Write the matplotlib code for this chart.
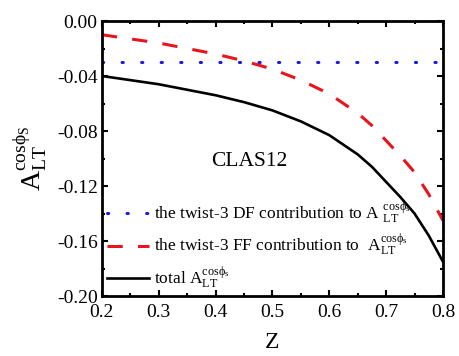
import matplotlib
matplotlib.use("Agg")
import matplotlib.pyplot as plt
from matplotlib.ticker import MultipleLocator, FuncFormatter

plt.rcParams['font.family'] = ['Liberation Serif', 'DejaVu Serif']
plt.rcParams['mathtext.fontset'] = 'custom'
plt.rcParams['mathtext.rm'] = 'Liberation Serif'
plt.rcParams['mathtext.it'] = 'Liberation Serif:italic'
plt.rcParams['axes.unicode_minus'] = False

# z values and asymmetry curves
z = [0.20, 0.25, 0.30, 0.35, 0.40, 0.45, 0.50, 0.525, 0.55, 0.575, 0.60, 0.625,
     0.65, 0.675, 0.70, 0.725, 0.75, 0.775, 0.80]
df_contrib = [-0.030] * len(z)
ff_contrib = [-0.010, -0.013, -0.016, -0.020, -0.024, -0.029, -0.035, -0.039,
              -0.043, -0.048, -0.053, -0.060, -0.067, -0.076, -0.087, -0.098,
              -0.110, -0.126, -0.145]
total = [-0.040, -0.043, -0.046, -0.050, -0.054, -0.059, -0.065, -0.069,
         -0.073, -0.078, -0.083, -0.090, -0.097, -0.106, -0.117, -0.128,
         -0.140, -0.156, -0.175]

labels = [r"the twist-3 DF contribution to A $^{\mathrm{cos\phi_s}}_{\mathrm{LT}}$",
          r"the twist-3 FF contribution to  A$^{\mathrm{cos\phi_s}}_{\mathrm{LT}}$",
          r"total A$^{\mathrm{cos\phi_s}}_{\mathrm{LT}}$"]

fig = plt.figure(figsize=(4.59, 3.56), dpi=100)
ax = fig.add_axes([0.222, 0.1685, 0.743, 0.7725])

ax.plot(z, df_contrib, color='#1a1adf', lw=2.2, linestyle=(0, (0.4, 6.0)),
        dash_capstyle='round', label=labels[0])
ax.plot(z, ff_contrib, color='#e8141e', lw=2.2, linestyle=(0, (5, 5)),
        label=labels[1])
ax.plot(z, total, color='black', lw=1.9, label=labels[2])

ax.set_xlim(0.2, 0.8)
ax.set_ylim(-0.20, 0.0)
ax.xaxis.set_major_locator(MultipleLocator(0.1))
ax.xaxis.set_minor_locator(MultipleLocator(0.05))
ax.yaxis.set_major_locator(MultipleLocator(0.04))
ax.yaxis.set_minor_locator(MultipleLocator(0.02))
ax.xaxis.set_major_formatter(FuncFormatter(lambda v, p: f"{v:.1f}"))
ax.yaxis.set_major_formatter(FuncFormatter(lambda v, p: f"{(v + 0.0) if abs(v) > 1e-9 else 0.0:.2f}"))
ax.tick_params(which='both', direction='in', top=True, right=True, width=1.5)
ax.tick_params(which='major', length=4.5, labelsize=14)
ax.tick_params(axis='x', which='major', pad=6)
ax.tick_params(axis='y', which='major', pad=3)
ax.tick_params(which='minor', length=2.5)
for s in ax.spines.values():
    s.set_linewidth(2.0)

ax.set_xlabel('Z', fontsize=17, labelpad=8)
ax.set_ylabel(r'A$^{\mathrm{cos\phi_S}}_{\mathrm{LT}}$', fontsize=20, labelpad=6)

ax.text(0.459, -0.102, 'CLAS12', fontsize=15.5, ha='center', va='center')

leg = ax.legend(loc='lower left', frameon=False, fontsize=12.5, handlelength=2.4,
                handletextpad=0.3, labelspacing=0.35, borderaxespad=0.1,
                borderpad=0.2)

fig.savefig('out.png', dpi=100)
